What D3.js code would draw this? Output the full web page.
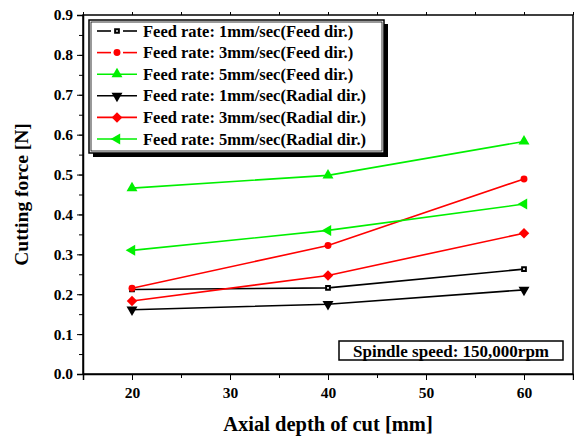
<!DOCTYPE html>
<html>
<head>
<meta charset="utf-8">
<script src="https://cdn.jsdelivr.net/npm/d3@7"></script>
<style>
  body { margin: 0; background: #fff; }
  svg { display: block; }
  svg text { font-family: "Liberation Serif", "Times New Roman", serif; font-weight: bold; fill: #000; }
</style>
</head>
<body>
<div id="chart"></div>
<script>
// Data
const depths = [20, 40, 60];
const feed1Feed = [0.212, 0.216, 0.263];
const feed3Feed = [0.215, 0.322, 0.489];
const feed5Feed = [0.466, 0.498, 0.583];
const feed1Radial = [0.161, 0.175, 0.211];
const feed3Radial = [0.183, 0.247, 0.353];
const feed5Radial = [0.31, 0.36, 0.426];

const seriesLabels = [
    'Feed rate: 1mm/sec(Feed dir.)',
    'Feed rate: 3mm/sec(Feed dir.)',
    'Feed rate: 5mm/sec(Feed dir.)',
    'Feed rate: 1mm/sec(Radial dir.)',
    'Feed rate: 3mm/sec(Radial dir.)',
    'Feed rate: 5mm/sec(Radial dir.)'
];
const xTicks = [20, 30, 40, 50, 60];
const yTicks = [0.0, 0.1, 0.2, 0.3, 0.4, 0.5, 0.6, 0.7, 0.8, 0.9];

const series = [
    { label: seriesLabels[0], values: feed1Feed, color: '#000', marker: 'square' },
    { label: seriesLabels[1], values: feed3Feed, color: '#ff0000', marker: 'circle' },
    { label: seriesLabels[2], values: feed5Feed, color: '#00f000', marker: 'up' },
    { label: seriesLabels[3], values: feed1Radial, color: '#000', marker: 'down' },
    { label: seriesLabels[4], values: feed3Radial, color: '#ff0000', marker: 'diamond' },
    { label: seriesLabels[5], values: feed5Radial, color: '#00f000', marker: 'left' }
];

const width = 574, height = 440;
const margin = { top: 15, right: 1, bottom: 66, left: 83 };

const svg = d3.select('#chart').append('svg')
    .attr('width', width)
    .attr('height', height);

const x = d3.scaleLinear().domain([15, 65]).range([margin.left, width - margin.right]);
const y = d3.scaleLinear().domain([0, 0.9]).range([height - margin.bottom, margin.top]);

// frame
svg.append('rect')
    .attr('x', x(15)).attr('y', y(0.9))
    .attr('width', x(65) - x(15)).attr('height', y(0) - y(0.9))
    .attr('fill', 'none').attr('stroke', '#000').attr('stroke-width', 1.5);

function styleTicks(g) {
    g.attr('font-family', null).attr('font-size', null);
    g.selectAll('text').attr('font-size', 15.5).attr('fill', '#000');
}

// bottom axis
const xMinor = d3.range(15, 66, 5);
svg.append('g')
    .attr('transform', `translate(0,${y(0)})`)
    .call(d3.axisBottom(x).tickValues(xMinor).tickSize(4).tickFormat(''))
    .call(g => g.select('.domain').remove());
svg.append('g')
    .attr('transform', `translate(0,${y(0)})`)
    .call(d3.axisBottom(x).tickValues(xTicks).tickSize(6).tickPadding(7).tickFormat(d3.format('d')))
    .call(g => g.select('.domain').attr('stroke-width', 1.5))
    .call(styleTicks);

// top axis ticks
svg.append('g')
    .attr('transform', `translate(0,${y(0.9)})`)
    .call(d3.axisTop(x).tickValues(xMinor).tickSize(3).tickFormat(''))
    .call(g => g.select('.domain').remove());

// left axis
const yMinor = d3.range(0, 0.901, 0.05);
svg.append('g')
    .attr('transform', `translate(${x(15)},0)`)
    .call(d3.axisLeft(y).tickValues(yMinor).tickSize(4).tickFormat(''))
    .call(g => g.select('.domain').remove());
svg.append('g')
    .attr('transform', `translate(${x(15)},0)`)
    .call(d3.axisLeft(y).tickValues(yTicks).tickSize(6).tickPadding(4).tickFormat(d3.format('.1f')))
    .call(g => g.select('.domain').attr('stroke-width', 1.5))
    .call(styleTicks);

// axis titles
svg.append('text')
    .attr('x', 328)
    .attr('y', 431)
    .attr('text-anchor', 'middle')
    .attr('font-size', 20.5)
    .text('Axial depth of cut [mm]');

svg.append('text')
    .attr('transform', `translate(28,${(y(0) + y(0.9)) / 2}) rotate(-90)`)
    .attr('text-anchor', 'middle')
    .attr('font-size', 19.5)
    .text('Cutting force [N]');

// marker shapes
function markerPath(type, size) {
    const map = {
        square: d3.symbolSquare, circle: d3.symbolCircle, diamond: d3.symbolSquare,
        up: d3.symbolTriangle, down: d3.symbolTriangle, left: d3.symbolTriangle
    };
    return d3.symbol().type(map[type]).size(size)();
}
function markerRotate(type) {
    if (type === 'down') return 180;
    if (type === 'left') return -90;
    if (type === 'diamond') return 45;
    return 0;
}
const markerSize = { square: 14, circle: 38, diamond: 55, up: 52, down: 52, left: 52 };
function drawMarker(g, type, color, cx, cy) {
    const m = g.append('path')
        .attr('d', markerPath(type, markerSize[type]))
        .attr('transform', `translate(${cx},${cy}) rotate(${markerRotate(type)})`);
    if (type === 'square') {
        m.attr('fill', '#fff').attr('stroke', color).attr('stroke-width', 2);
    } else {
        m.attr('fill', color);
    }
}

const line = d3.line().x((d, i) => x(depths[i])).y(d => y(d));

series.forEach(s => {
    svg.append('path')
        .datum(s.values)
        .attr('fill', 'none')
        .attr('stroke', s.color)
        .attr('stroke-width', 1.6)
        .attr('d', line);
    s.values.forEach((v, i) => drawMarker(svg, s.marker, s.color, x(depths[i]), y(v)));
});

// legend
const leg = svg.append('g').attr('transform', 'translate(89,20)');
const legW = 295, legH = 133;
leg.append('rect').attr('x', 4).attr('y', 4).attr('width', legW).attr('height', legH).attr('fill', '#000');
leg.append('rect').attr('width', legW).attr('height', legH).attr('fill', '#fff')
    .attr('stroke', '#000').attr('stroke-width', 1.5);
leg.append('rect').attr('x', 2).attr('y', 2).attr('width', legW - 4).attr('height', legH - 4)
    .attr('fill', 'none').attr('stroke', '#000').attr('stroke-width', 0.8);
series.forEach((s, i) => {
    const ry = 11 + i * 21.6;
    const gapped = s.marker === 'square' || s.marker === 'circle';
    const segs = gapped ? [[8, 22], [34, 48]] : [[8, 48]];
    segs.forEach(([a, b]) => {
        leg.append('line').attr('x1', a).attr('x2', b).attr('y1', ry).attr('y2', ry)
            .attr('stroke', s.color).attr('stroke-width', 1.6);
    });
    drawMarker(leg, s.marker, s.color, 28, ry);
    leg.append('text')
        .attr('x', 54).attr('y', ry + 5.5)
        .attr('font-size', 16.5)
        .text(s.label);
});

// spindle speed note
const note = svg.append('g').attr('transform', 'translate(339,341)');
note.append('rect').attr('width', 224).attr('height', 19)
    .attr('fill', '#fff').attr('stroke', '#000').attr('stroke-width', 1.5);
note.append('text').attr('x', 112).attr('y', 15.5).attr('text-anchor', 'middle')
    .attr('font-size', 17)
    .text('Spindle speed: 150,000rpm');
</script>
</body>
</html>
